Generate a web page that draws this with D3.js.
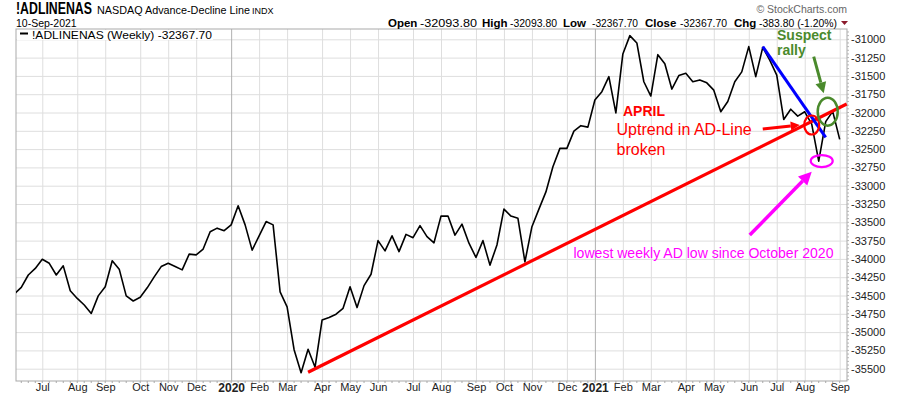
<!DOCTYPE html>
<html lang="en">
<head>
<meta charset="UTF-8">
<title>NASDAQ Advance-Decline Line</title>
<script src="https://d3js.org/d3.v7.min.js"></script>
<style>
  body { margin: 0; background: #fff; }
  text { font-family: "Liberation Sans", Arial, sans-serif; }
  .grid line { stroke: #dedede; }
  .grid .domain { display: none; }
</style>
</head>
<body>
<div id="chart"></div>
<script>
// weekly bars (dated on Mondays), Jun 2019 .. Sep 2021
const firstWeek = new Date(2019, 5, 3);
const lastWeek = new Date(2021, 8, 6);

const ad2019 = [-34480, -34390, -34220, -34130, -34005, -34060, -34220, -34095, -34435, -34540,
  -34630, -34745, -34505, -34380, -34025, -34140, -34505, -34575, -34525, -34395,
  -34245, -34105, -34060, -34105, -34150, -33935, -33945, -33865, -33630, -33580, -33615];
const ad2020 = [-33535, -33275, -33535, -33880, -33685, -33490, -33535, -34450,
  -34655, -35240, -35555, -35235, -35480, -34835, -34800, -34755, -34675,
  -34380, -34665, -34365, -34210, -33750, -33890, -33685, -33900, -33665,
  -33710, -33545, -33695, -33780, -33415, -33415, -33675, -33525, -33785,
  -33980, -33750, -34085, -33810, -33320, -33415, -33445, -34040,
  -33560, -33320, -33085, -32740, -32490, -32490, -32255, -32180, -32200];
const ad2021 = [-31830, -31715, -31510, -32005, -31200, -30950, -31050, -31580,
  -31775, -31210, -31335, -31680, -31495, -31465, -31580, -31555, -31595,
  -31695, -31990, -31850, -31580, -31445, -31100, -31510, -31110, -31285,
  -31490, -32095, -31955, -32050, -31990, -32160, -32665, -32125, -31984, -32367.7];

const yTicks = [-31000, -31250, -31500, -31750, -32000, -32250, -32500, -32750, -33000,
  -33250, -33500, -33750, -34000, -34250, -34500, -34750, -35000, -35250, -35500];

// hand-drawn annotations, in chart coordinates
const trendLine = [[new Date(2020, 2, 23), -35549], [new Date(2021, 8, 13), -31884]];
const blueLine = [[new Date(2021, 5, 21), -31101], [new Date(2021, 7, 23), -32339]];
const redArrow = [[new Date(2021, 5, 21), -32225], [new Date(2021, 6, 28), -32171]];
const greenArrow = [[new Date(2021, 7, 11), -31238], [new Date(2021, 7, 21), -31738]];
const pinkArrow = [[new Date(2021, 5, 8), -33673], [new Date(2021, 7, 9), -32809]];
const redRing = [new Date(2021, 7, 9), -32171];
const greenRing = [new Date(2021, 7, 25), -31989];
const pinkRing = [new Date(2021, 7, 19), -32663];

const weeks = d3.timeMonday.range(firstWeek, d3.timeDay.offset(lastWeek, 1));
const values = ad2019.concat(ad2020, ad2021);
const data = weeks.map((d, i) => ({ date: d, value: values[i] }));

const width = 900, height = 396;
const plotL = 16, plotR = 847, plotT = 29, plotB = 381;

const x = d3.scaleTime()
    .domain([firstWeek, lastWeek])
    .range([14.3, 839.7]);

const y = d3.scaleLinear()
    .domain([-35500, -31000])
    .range([368.7, 39.3]);

const svg = d3.select("#chart").append("svg")
    .attr("width", width)
    .attr("height", height);

svg.append("defs").append("clipPath").attr("id", "plot")
  .append("rect")
    .attr("x", plotL).attr("y", plotT)
    .attr("width", plotR - plotL).attr("height", plotB - plotT);

// first bar of every month
const monthStarts = data.filter((d, i) => i > 0 && d.date.getMonth() !== data[i - 1].date.getMonth())
    .map(d => d.date);

// horizontal grid
svg.append("g")
    .attr("class", "grid")
    .attr("transform", `translate(${plotL},0)`)
    .call(d3.axisLeft(y).tickValues(yTicks).tickSize(-(plotR - plotL)).tickFormat(""));

// vertical grid
svg.append("g")
    .attr("class", "grid")
    .attr("transform", `translate(0,${plotB})`)
    .call(d3.axisBottom(x).tickValues(monthStarts).tickSize(-(plotB - plotT)).tickFormat(""))
    .selectAll("line")
    .style("stroke", d => d.getMonth() === 0 ? "#b0b0b0" : "#dedede");

// frame
svg.append("rect")
    .attr("x", plotL).attr("y", plotT)
    .attr("width", plotR - plotL).attr("height", plotB - plotT)
    .attr("fill", "none")
    .attr("stroke", "#a9a9a9");

// weekly ticks under the x axis
svg.append("g").selectAll("line")
    .data(weeks.filter(d => x(d) >= plotL))
    .join("line")
    .attr("x1", d => x(d)).attr("x2", d => x(d))
    .attr("y1", plotB).attr("y2", plotB + 2)
    .attr("stroke", "#a9a9a9");

// minor ticks on the right axis
svg.append("g").selectAll("line")
    .data(d3.range(-35650, -30850, 50))
    .join("line")
    .attr("x1", plotR).attr("x2", plotR + 2)
    .attr("y1", d => y(d)).attr("y2", d => y(d))
    .attr("stroke", "#b5b5b5");

// y labels
const yAxis = svg.append("g")
    .attr("transform", `translate(${plotR},0)`)
    .call(d3.axisRight(y).tickValues(yTicks).tickSize(0).tickPadding(4).tickFormat(d => d));
yAxis.select(".domain").remove();
yAxis.selectAll("text")
    .attr("font-size", 11)
    .attr("font-family", "'Liberation Sans', Arial, sans-serif")
    .attr("fill", "#222");

// x labels
const xAxis = svg.append("g")
    .attr("transform", `translate(0,${plotB})`)
    .call(d3.axisBottom(x)
        .tickValues(monthStarts.filter(d => x(d) > plotL + 10))
        .tickSize(0).tickPadding(2)
        .tickFormat(d => d.getMonth() === 0 ? d3.timeFormat("%Y")(d) : d3.timeFormat("%b")(d)));
xAxis.select(".domain").remove();
xAxis.selectAll("text")
    .attr("font-size", d => d.getMonth() === 0 ? 12 : 11)
    .attr("font-weight", d => d.getMonth() === 0 ? "bold" : "normal")
    .attr("font-family", "'Liberation Sans', Arial, sans-serif")
    .attr("fill", "#222");

// the A/D line
const line = d3.line()
    .x(d => x(d.date))
    .y(d => y(d.value));

svg.append("path")
    .datum(data)
    .attr("clip-path", "url(#plot)")
    .attr("d", line)
    .attr("fill", "none")
    .attr("stroke", "#000")
    .attr("stroke-width", 1.6)
    .attr("stroke-linejoin", "round");

// legend
svg.append("rect")
    .attr("x", plotL + 1).attr("y", plotT + 1)
    .attr("width", 196).attr("height", 10)
    .attr("fill", "#fff");
svg.append("line")
    .attr("x1", 20).attr("x2", 28).attr("y1", 33.5).attr("y2", 33.5)
    .attr("stroke", "#000").attr("stroke-width", 2);
svg.append("text")
    .attr("x", 32).attr("y", 38.5)
    .attr("font-size", 11)
    .attr("textLength", 180).attr("lengthAdjust", "spacingAndGlyphs")
    .text("!ADLINENAS (Weekly) -32367.70");

// header
svg.append("text")
    .attr("transform", "translate(16,13.5) scale(0.77,1)")
    .attr("font-size", 16).attr("font-weight", "bold")
    .text("!ADLINENAS");
svg.append("text")
    .attr("transform", "translate(97,13.5) scale(1.03,1)")
    .attr("font-size", 10.5)
    .text("NASDAQ Advance-Decline Line");
svg.append("text")
    .attr("x", 252).attr("y", 13.5)
    .attr("font-size", 9)
    .text("INDX");
svg.append("text")
    .attr("x", 16).attr("y", 26.5)
    .attr("font-size", 10.5)
    .text("10-Sep-2021");
svg.append("text")
    .attr("x", 847).attr("y", 13)
    .attr("text-anchor", "end")
    .attr("font-size", 10.5)
    .attr("fill", "#666")
    .text("\u00A9 StockCharts.com");

const quote = [
  { label: "Open", value: "-32093.80", lx: 388, vx: 420, vw: 57 },
  { label: "High", value: "-32093.80", lx: 482, vx: 510, vw: 47 },
  { label: "Low", value: "-32367.70", lx: 563, vx: 592, vw: 46 },
  { label: "Close", value: "-32367.70", lx: 645, vx: 680, vw: 47 },
  { label: "Chg", value: "-383.80 (-1.20%)", lx: 734, vx: 759, vw: 78 }
];
const qg = svg.append("g");
qg.selectAll("text.lab")
    .data(quote)
    .join("text")
    .attr("class", "lab")
    .attr("x", d => d.lx).attr("y", 26.5)
    .attr("font-size", 11.5).attr("font-weight", "bold")
    .text(d => d.label);
qg.selectAll("text.val")
    .data(quote)
    .join("text")
    .attr("class", "val")
    .attr("x", d => d.vx).attr("y", 26.5)
    .attr("font-size", 10.5)
    .attr("textLength", d => d.vw).attr("lengthAdjust", "spacingAndGlyphs")
    .text(d => d.value);
svg.append("path")
    .attr("d", "M841,21 L848,21 L844.5,25 Z")
    .attr("fill", "#8b1a2b");

// annotations
const ann = svg.append("g");
const pt = p => [x(p[0]), y(p[1])];

ann.append("line")
    .attr("x1", pt(trendLine[0])[0]).attr("y1", pt(trendLine[0])[1])
    .attr("x2", pt(trendLine[1])[0]).attr("y2", pt(trendLine[1])[1])
    .attr("stroke", "#ff0000").attr("stroke-width", 3.2);

ann.append("line")
    .attr("x1", pt(blueLine[0])[0]).attr("y1", pt(blueLine[0])[1])
    .attr("x2", pt(blueLine[1])[0]).attr("y2", pt(blueLine[1])[1])
    .attr("stroke", "#0000ff").attr("stroke-width", 3);

function arrow(pts, color, w, head, headW) {
  const [x1, y1] = pt(pts[0]);
  const [x2, y2] = pt(pts[1]);
  const a = Math.atan2(y2 - y1, x2 - x1);
  const bx = x2 - head * Math.cos(a), by = y2 - head * Math.sin(a);
  ann.append("line")
      .attr("x1", x1).attr("y1", y1).attr("x2", bx).attr("y2", by)
      .attr("stroke", color).attr("stroke-width", w);
  const nx = -Math.sin(a) * headW / 2, ny = Math.cos(a) * headW / 2;
  ann.append("path")
      .attr("d", `M${x2},${y2}L${bx + nx},${by + ny}L${bx - nx},${by - ny}Z`)
      .attr("fill", color);
}

arrow(redArrow, "#ff0000", 3, 9, 9);
arrow(greenArrow, "#4a8a2c", 3, 11, 11);
arrow(pinkArrow, "#ff00ff", 3.5, 13, 13);

ann.append("ellipse")
    .attr("cx", pt(redRing)[0]).attr("cy", pt(redRing)[1])
    .attr("rx", 7.5).attr("ry", 9.5)
    .attr("fill", "none").attr("stroke", "#ff0000").attr("stroke-width", 2.2);
ann.append("ellipse")
    .attr("cx", pt(greenRing)[0]).attr("cy", pt(greenRing)[1])
    .attr("rx", 10).attr("ry", 14)
    .attr("fill", "none").attr("stroke", "#4a8a2c").attr("stroke-width", 2.5);
ann.append("ellipse")
    .attr("cx", pt(pinkRing)[0]).attr("cy", pt(pinkRing)[1])
    .attr("rx", 11).attr("ry", 6)
    .attr("fill", "none").attr("stroke", "#ff00ff").attr("stroke-width", 2.2);

ann.append("text")
    .attr("x", 777).attr("y", 40)
    .attr("font-size", 14).attr("font-weight", "bold").attr("fill", "#4a8a2c")
    .text("Suspect");
ann.append("text")
    .attr("x", 777).attr("y", 55)
    .attr("font-size", 14).attr("font-weight", "bold").attr("fill", "#4a8a2c")
    .text("rally");

ann.append("text")
    .attr("x", 623).attr("y", 116)
    .attr("font-size", 14).attr("font-weight", "bold").attr("fill", "#ff0000")
    .text("APRIL");
ann.append("text")
    .attr("x", 616.5).attr("y", 135)
    .attr("font-size", 16).attr("fill", "#ff0000")
    .text("Uptrend in AD-Line");
ann.append("text")
    .attr("x", 616.5).attr("y", 155)
    .attr("font-size", 16).attr("fill", "#ff0000")
    .text("broken");

ann.append("text")
    .attr("x", 573.5).attr("y", 257.5)
    .attr("font-size", 14).attr("fill", "#ff00ff")
    .attr("textLength", 260).attr("lengthAdjust", "spacingAndGlyphs")
    .text("lowest weekly AD low since October 2020");
</script>
</body>
</html>
